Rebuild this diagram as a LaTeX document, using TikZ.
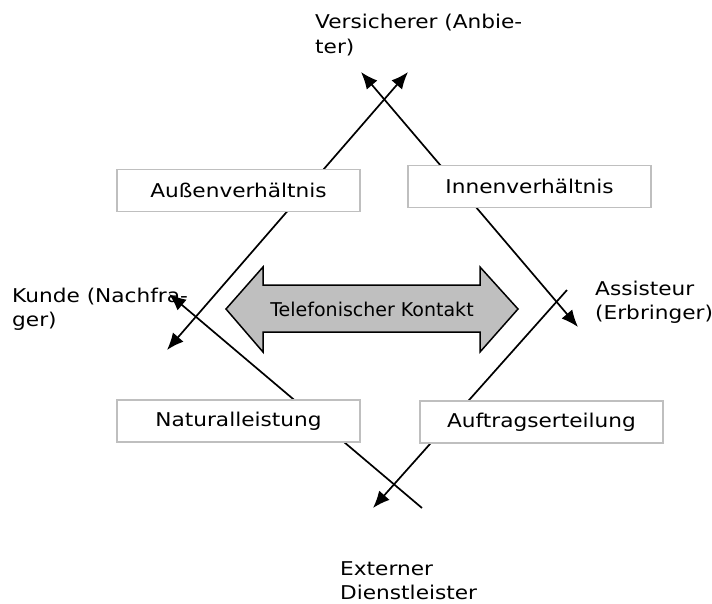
\documentclass[tikz,border=0pt]{standalone}
\usepackage{fontspec}
\setmainfont{DejaVu Sans}
\newfontfamily\widefont{DejaVu Sans}[FakeStretch=1.14]
\usetikzlibrary{arrows.meta}
\begin{document}
\begin{tikzpicture}[x=1pt,y=-1pt,
  lbl/.style={anchor=base west,inner sep=0pt,font=\widefont\fontsize{19}{22}\selectfont},
  rel/.style={draw=black!25,fill=white,line width=1.6pt,minimum width=243pt,minimum height=42pt,inner sep=0pt,font=\widefont\fontsize{19}{22}\selectfont},
  conn/.style={line width=1.7pt},
  tip/.style={-{Latex[length=17pt,width=14pt]}},
  dtip/.style={{Latex[length=17pt,width=14pt]}-{Latex[length=17pt,width=14pt]}},
  bigarrow/.style={draw=black,fill=black!25,line width=1.5pt,line join=miter}]
\useasboundingbox (0,0) rectangle (712,603);
% labels
\node[lbl] (vers1) at (315,28) {Versicherer (Anbie-};
\node[lbl] (vers2) at (315,53) {ter)};
\node[lbl] (kunde1) at (12,302) {Kunde (Nachfra-};
\node[lbl] (kunde2) at (12,326) {ger)};
\node[lbl] (ass1) at (595,295) {Assisteur};
\node[lbl] (ass2) at (595,319) {(Erbringer)};
\node[lbl] (ext1) at (340,575) {Externer};
\node[lbl] (ext2) at (340,599) {Dienstleister};
% connector end points
\coordinate (aTop) at (408,72);
\coordinate (aBot) at (167,350);
\coordinate (iTop) at (361,72);
\coordinate (iBot) at (578,327);
\coordinate (nTop) at (169,294);
\coordinate (nBot) at (422,508);
\coordinate (oTop) at (567,290);
\coordinate (oBot) at (373,508);
% connectors
\draw[conn,dtip] (aBot) -- (aTop);
\draw[conn,dtip] (iTop) -- (iBot);
\draw[conn,tip] (nBot) -- (nTop);
\draw[conn,tip] (oTop) -- (oBot);
% relation boxes
\node[rel] (aussen) at (238.5,190.5) {Außenverhältnis};
\node[rel] (innen) at (529.5,186.5) {Innenverhältnis};
\node[rel] (natural) at (238.5,421) {Naturalleistung};
\node[rel] (auftrag) at (541.5,422) {Auftragserteilung};
% big double arrow
\draw[bigarrow] (226,309) -- (263,267) -- (263,285) -- (480,285) -- (480,267) -- (518,309) -- (480,352) -- (480,332) -- (263,332) -- (263,352) -- cycle;
\node[inner sep=0pt,font=\fontsize{19}{22}\selectfont] (tel) at (372,309) {Telefonischer Kontakt};
\end{tikzpicture}
\end{document}
